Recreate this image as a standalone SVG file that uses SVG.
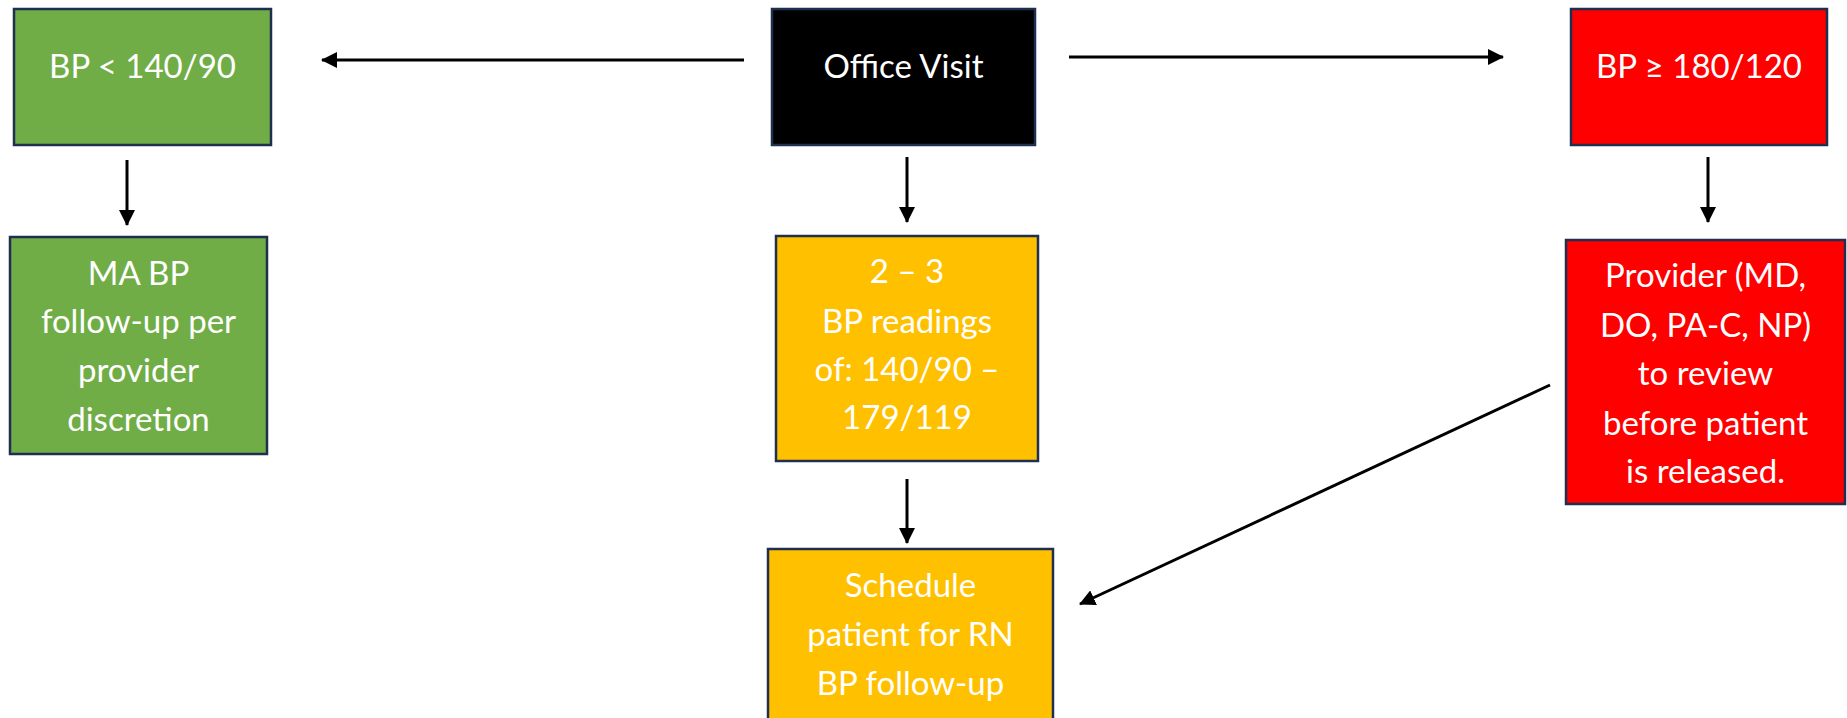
<svg xmlns="http://www.w3.org/2000/svg" width="1847" height="718" viewBox="0 0 1847 718">
<style>
.box{stroke:#1F2F4F;stroke-width:2.5}
.t{font-family:Lato,"Open Sans","Liberation Sans",sans-serif;font-size:33px;fill:#ffffff;text-anchor:middle}
.c{stroke:#000;stroke-width:3;fill:none;marker-end:url(#ah)}
</style>
<defs>
<marker id="ah" markerUnits="userSpaceOnUse" markerWidth="16" markerHeight="16" viewBox="0 0 16 16" refX="15" refY="8" orient="auto">
<path d="M0,0 L16,8 L0,16 Z" fill="#000"/>
</marker>
</defs>
<rect width="1847" height="718" fill="#ffffff"/>
<g id="connectors">
<line class="c" x1="744" y1="60" x2="322" y2="60"/>
<line class="c" x1="1069" y1="57" x2="1503" y2="57"/>
<line class="c" x1="127" y1="160" x2="127" y2="225"/>
<line class="c" x1="907" y1="157" x2="907" y2="222"/>
<line class="c" x1="1708" y1="157" x2="1708" y2="222"/>
<line class="c" x1="907" y1="479" x2="907" y2="543"/>
<line class="c" x1="1550" y1="385" x2="1080" y2="604"/>
</g>
<g id="node-bp-low">
<rect class="box" x="14" y="9" width="257" height="136" fill="#70AD47"/>
<text class="t" x="142.5" y="78">BP &lt; 140/90</text>
</g>
<g id="node-office-visit">
<rect class="box" x="772" y="9" width="263" height="136" fill="#000000"/>
<text class="t" x="903.5" y="78">Office Visit</text>
</g>
<g id="node-bp-high">
<rect class="box" x="1571" y="9" width="256" height="136" fill="#FF0000"/>
<text class="t" x="1699" y="78">BP ≥ 180/120</text>
</g>
<g id="node-ma-followup">
<rect class="box" x="10" y="237" width="257" height="217" fill="#70AD47"/>
<text class="t" x="138.5" y="285">MA BP</text>
<text class="t" x="138.5" y="333">follow-up per</text>
<text class="t" x="138.5" y="382">provider</text>
<text class="t" x="138.5" y="431">discretion</text>
</g>
<g id="node-readings">
<rect class="box" x="776" y="236" width="262" height="225" fill="#FFC000"/>
<text class="t" x="907" y="283">2 – 3</text>
<text class="t" x="907" y="333">BP readings</text>
<text class="t" x="907" y="381">of: 140/90 –</text>
<text class="t" x="907" y="429">179/119</text>
</g>
<g id="node-provider">
<rect class="box" x="1566" y="240" width="279" height="264" fill="#FF0000"/>
<text class="t" x="1705.5" y="287">Provider (MD,</text>
<text class="t" x="1705.5" y="337">DO, PA-C, NP)</text>
<text class="t" x="1705.5" y="385">to review</text>
<text class="t" x="1705.5" y="435">before patient</text>
<text class="t" x="1705.5" y="483">is released.</text>
</g>
<g id="node-schedule">
<rect class="box" x="768" y="549" width="285" height="190" fill="#FFC000"/>
<text class="t" x="910.5" y="597">Schedule</text>
<text class="t" x="910.5" y="646">patient for RN</text>
<text class="t" x="910.5" y="695">BP follow-up</text>
</g>
</svg>
